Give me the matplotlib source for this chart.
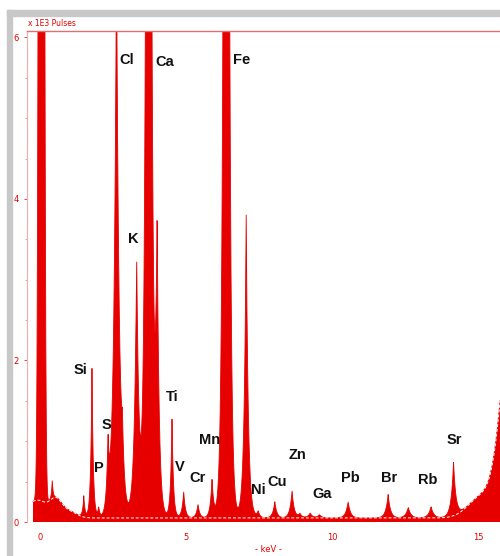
import numpy as np
import matplotlib
matplotlib.use("Agg")
import matplotlib.pyplot as plt
from matplotlib.patches import Rectangle

# Picchi dello spettro (keV, altezza in 1E3 impulsi, larghezza keV)
peak_e = [0.42, 1.50, 1.78, 2.01, 2.33, 2.62, 2.82, 3.31, 3.72, 4.01,
          4.52, 4.92, 5.41, 5.89, 6.38, 7.06, 7.47, 8.04, 8.63, 8.90, 9.25, 9.57,
          10.55, 11.92, 12.61, 13.39, 14.16]
peak_h = [0.22, 0.26, 1.85, 0.12, 0.78, 7.0, 0.6, 3.2, 40.0, 3.45,
          1.22, 0.32, 0.17, 0.48, 44.0, 3.75, 0.08, 0.2, 0.34, 0.05, 0.06, 0.04,
          0.2, 0.29, 0.13, 0.14, 0.66]
peak_w = [0.03, 0.04, 0.045, 0.04, 0.05, 0.09, 0.06, 0.08, 0.06, 0.07,
          0.05, 0.06, 0.06, 0.06, 0.06, 0.07, 0.06, 0.07, 0.07, 0.08, 0.08, 0.08,
          0.08, 0.08, 0.09, 0.09, 0.08]

# Picco dello zero (gaussiano)
zero_e, zero_h, zero_s = 0.05, 40.0, 0.061

# Fondo continuo (gaussiane larghe) e livello minimo
bg_e = [-0.1, 0.55, 1.0, 15.1, 16.3]
bg_h = [0.22, 0.20, 0.08, 0.25, 3.2]
bg_s = [0.35, 0.20, 0.25, 0.45, 0.42]
floor = 0.05

# Etichette degli elementi (keV, altezza)
labels = ["Cl", "Ca", "Fe", "K", "Si", "S", "P", "Ti", "V", "Cr", "Mn",
          "Ni", "Cu", "Zn", "Ga", "Pb", "Br", "Rb", "Sr"]
lab_e = [2.98, 4.28, 6.92, 3.18, 1.37, 2.29, 2.02, 4.52, 4.80, 5.41, 5.82,
         7.47, 8.12, 8.80, 9.66, 10.62, 11.95, 13.29, 14.18]
lab_y = [5.72, 5.70, 5.72, 3.50, 1.88, 1.20, 0.67, 1.55, 0.68, 0.54, 1.01,
         0.40, 0.50, 0.83, 0.35, 0.54, 0.54, 0.52, 1.01]

x = np.arange(-0.24, 15.76, 0.004)
bg = np.full_like(x, floor)
for e, h, s in zip(bg_e, bg_h, bg_s):
    bg += h * np.exp(-(x - e) ** 2 / (2 * s ** 2))
y = bg + zero_h * np.exp(-(x - zero_e) ** 2 / (2 * zero_s ** 2))
for e, h, w in zip(peak_e, peak_h, peak_w):
    y += h * np.exp(-np.abs(x - e) / w)

red = "#e60000"
pink = "#e07070"

fig = plt.figure(figsize=(5, 5.56), dpi=100)
# cornice grigia
fig.patches.append(Rectangle((7 / 500, 0), 5 / 500, 1 - 10 / 556,
                             transform=fig.transFigure, color="#c8c8c8", zorder=0))
fig.patches.append(Rectangle((7 / 500, 1 - 16 / 556), 1 - 7 / 500, 6 / 556,
                             transform=fig.transFigure, color="#c8c8c8", zorder=0))

ax = fig.add_axes([27 / 500, 1 - 522 / 556, 1 - 27 / 500, 491 / 556])
ax.fill_between(x, 0, y, color=red, lw=0)
ax.plot(x, y, color=red, lw=0.6)
ax.plot(x, bg, color="white", lw=0.7, ls=(0, (3, 2)))

ax.set_xlim(-0.445, 15.75)
ax.set_ylim(0, 6.08)
for sp in ["right", "bottom"]:
    ax.spines[sp].set_visible(False)
ax.spines["left"].set_color("#f0b0b0")
ax.spines["top"].set_color(pink)
ax.spines["left"].set_linewidth(0.8)
ax.spines["top"].set_linewidth(1.0)

ax.set_xticks([0, 5, 10, 15])
ax.set_yticks([0, 2, 4, 6])
ax.set_yticks(np.arange(0, 6.1, 0.5), minor=True)
ax.tick_params(colors=red, labelcolor=red, labelsize=6, length=2, width=0.5, pad=4)
ax.tick_params(which="minor", colors=pink, length=1.5, width=0.5)
ax.tick_params(axis="x", length=0, pad=8)

for t, e, h in zip(labels, lab_e, lab_y):
    ax.text(e, h, t, ha="center", va="center", fontsize=10.5,
            fontweight="bold", family="Liberation Sans", color="#111111")

fig.text(28 / 500, 1 - 23 / 556, "x 1E3 Pulses", color=red, fontsize=5.5,
         ha="left", va="center")
fig.text(268 / 500, 1 - 550 / 556, "- keV -", color=red, fontsize=6,
         ha="center", va="center")

plt.savefig("out.png", dpi=100)
